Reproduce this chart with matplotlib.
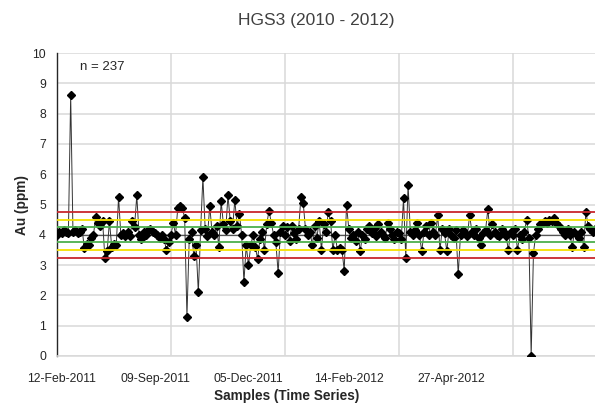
import matplotlib
matplotlib.use("Agg")
import matplotlib.pyplot as plt
from matplotlib.ticker import MultipleLocator, FixedLocator, FixedFormatter

plt.rcParams['font.family'] = ['Liberation Sans', 'DejaVu Sans']

title = "HGS3 (2010 - 2012)"
y_label = "Au (ppm)"
x_label = "Samples (Time Series)"
n_label = "n = 237"

# Au assay results for the HGS3 standard, in submission order
au_ppm = [
    4.00, 4.10, 4.05, 4.15, 4.10, 4.05, 8.60, 4.10, 4.15, 4.05,
    4.10, 4.20, 3.55, 3.70, 3.65, 3.90, 4.00, 4.60, 4.40, 4.30,
    4.45, 3.25, 3.45, 4.45, 3.60, 3.70, 3.65, 5.25, 4.00, 4.05,
    3.95, 4.10, 3.95, 4.45, 4.25, 5.30, 4.00, 3.85, 4.10, 4.00,
    4.15, 4.20, 4.10, 4.05, 4.00, 3.90, 4.00, 3.85, 3.50, 3.75,
    4.00, 4.40, 4.00, 4.90, 4.95, 4.90, 4.55, 1.30, 3.85, 4.10,
    3.30, 3.65, 2.10, 4.15, 5.90, 4.20, 3.95, 4.95, 4.10, 4.00,
    4.30, 3.60, 5.10, 4.35, 4.15, 5.30, 4.45, 4.20, 5.15, 4.30,
    4.70, 4.00, 2.45, 3.65, 3.00, 3.65, 4.00, 3.60, 3.20, 3.85,
    4.10, 3.50, 4.35, 4.80, 4.40, 4.00, 3.75, 2.75, 4.10, 4.30,
    4.00, 4.25, 3.80, 4.30, 4.05, 3.85, 4.20, 5.25, 5.05, 4.20,
    4.00, 4.10, 3.65, 4.30, 3.90, 4.45, 3.50, 4.35, 4.10, 4.75,
    4.45, 3.50, 4.00, 3.50, 3.55, 3.50, 2.82, 4.98, 4.20, 3.90,
    4.00, 3.80, 4.10, 3.45, 4.00, 3.85, 4.20, 4.30, 4.05, 4.20,
    3.95, 4.35, 4.10, 4.00, 3.90, 4.40, 4.20, 4.00, 3.85, 4.10,
    4.05, 3.85, 5.20, 3.25, 5.65, 4.10, 4.00, 4.15, 4.40, 4.00,
    3.45, 4.10, 4.30, 4.00, 4.40, 4.10, 4.00, 4.65, 3.50, 4.20,
    4.05, 3.45, 4.20, 4.00, 3.90, 4.15, 2.70, 4.00, 4.15, 4.05,
    3.95, 4.65, 4.10, 4.00, 4.20, 3.90, 3.65, 4.05, 4.15, 4.85,
    4.00, 4.35, 4.10, 4.00, 3.95, 4.20, 4.10, 3.95, 3.50, 4.10,
    4.00, 4.20, 3.50, 4.00, 3.85, 4.10, 4.50, 3.90, 0.00, 3.40,
    4.00, 4.20, 4.35, 4.40, 4.45, 4.40, 4.50, 4.45, 4.55, 4.40,
    4.30, 4.20, 4.10, 4.00, 4.20, 4.00, 3.60, 4.10, 4.00, 3.90,
    4.10, 3.60, 4.75, 4.30, 4.20, 4.10, 4.20,
]

# Sample dates shown along the category axis
date_labels = ["12-Feb-2011", "09-Sep-2011", "05-Dec-2011", "14-Feb-2012", "27-Apr-2012"]
date_index = [2, 43, 84, 128, 173]

# Certified value and control limits (±1, ±2, ±3 SD)
center = 4.0
limit_1sd = [3.75, 4.25]
limit_2sd = [3.50, 4.50]
limit_3sd = [3.25, 4.75]

fig = plt.figure(figsize=(5.95, 4.09), dpi=100)
ax = fig.add_axes([57 / 595, 1 - 356 / 409, 1 - 57 / 595, (356 - 53) / 409])

x = list(range(len(au_ppm)))
ax.plot(x, au_ppm, color="#333333", lw=0.7, marker="D", ms=4.0,
        mfc="black", mec="black", zorder=3)

ax.axhline(center, color="#555555", lw=0.9, zorder=2)
for lo, hi, col in [(limit_1sd[0], limit_1sd[1], "#4cb04c"),
                    (limit_2sd[0], limit_2sd[1], "#f5e000"),
                    (limit_3sd[0], limit_3sd[1], "#c8282d")]:
    ax.axhline(lo, color=col, lw=1.3, zorder=4)
    ax.axhline(hi, color=col, lw=1.3, zorder=4)

ax.set_ylim(0, 10)
ax.set_xlim(0, len(au_ppm) - 1)
ax.yaxis.set_major_locator(MultipleLocator(1))
ax.xaxis.set_major_locator(FixedLocator(date_index))
ax.xaxis.set_major_formatter(FixedFormatter(date_labels))
ax.xaxis.set_minor_locator(MultipleLocator(50))

ax.grid(axis="y", which="major", color="#d9d9d9", lw=1.1, zorder=0)
ax.grid(axis="x", which="minor", color="#d9d9d9", lw=1.1, zorder=0)
ax.grid(axis="x", which="major", visible=False)
ax.set_axisbelow(True)

for s in ["top", "right"]:
    ax.spines[s].set_visible(False)
ax.spines["bottom"].set_color("#d9d9d9")
ax.spines["bottom"].set_linewidth(1.1)
ax.spines["left"].set_color("#262626")
ax.spines["left"].set_linewidth(1.0)

ax.tick_params(axis="both", which="both", length=0, labelsize=8.8, colors="#262626")
ax.tick_params(axis="x", pad=12)
ax.tick_params(axis="y", pad=8)

ax.text(10, 9.55, n_label, fontsize=9.5, color="#262626", va="center", ha="left")

fig.text(316 / 595, 1 - 20 / 409, title, ha="center", va="center",
         fontsize=12.5, color="#404040")
fig.text(287 / 595, 1 - 396 / 409, x_label, ha="center", va="center",
         fontsize=9.8, fontweight="bold", color="#262626")
fig.text(22 / 595, 1 - 205 / 409, y_label, ha="center", va="center",
         rotation=90, fontsize=9.8, fontweight="bold", color="#262626")

fig.savefig("out.png", dpi=100)
